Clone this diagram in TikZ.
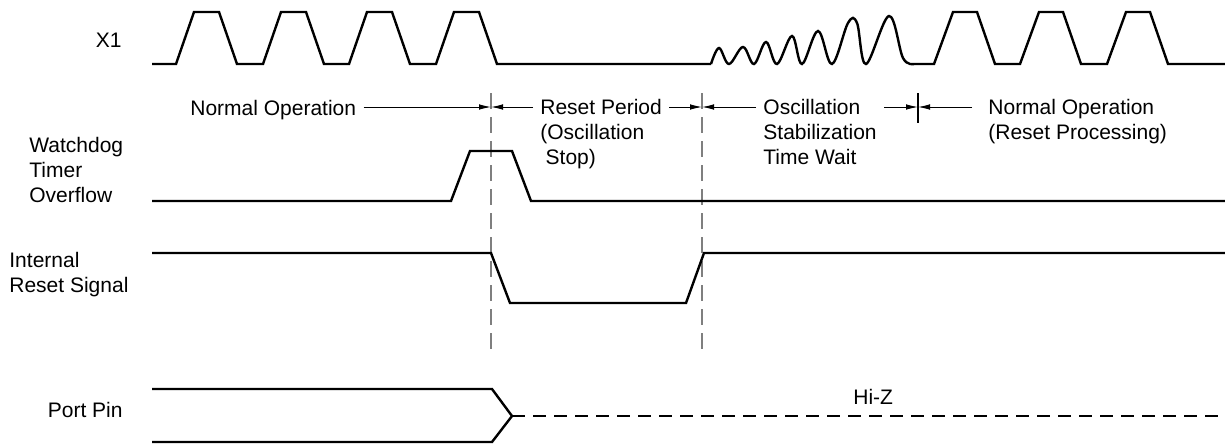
\documentclass[tikz,border=0pt]{standalone}
\usepackage{fontspec}
\setmainfont{Liberation Sans}
\usepackage{tikz}
\usetikzlibrary{arrows.meta}
\definecolor{TDInk}{HTML}{000000}
\definecolor{TDGuide}{HTML}{7F7F7F}
\definecolor{TDPaper}{HTML}{FFFFFF}

\begin{document}
\begin{tikzpicture}[x=0.5pt,y=-0.5pt,
  sig/.style={TDInk,line width=1.2pt,line join=miter},
  guide/.style={TDGuide,line width=0.6pt,dash pattern=on 8pt off 4pt},
  dim/.style={TDInk,line width=0.5pt,-{Latex[length=6pt,width=2.8pt]}},
  lbl/.style={font=\fontsize{10.5}{12.5}\selectfont,align=left,inner sep=3.5pt}]
\path[use as bounding box] (0,0) rectangle (1225,445);
\fill[TDPaper] (0,0) rectangle (1225,445);
% signal names
\node[lbl,anchor=base east] (nX1) at (129,47.5) {X1};
\node[lbl,anchor=north west] (nWdt) at (22,130.2) {Watchdog\\Timer\\Overflow};
\node[lbl,anchor=north west] (nRst) at (2,245.2) {Internal\\Reset Signal};
\node[lbl,anchor=base east] (nPort) at (130,417.5) {Port Pin};
% phase markers
\coordinate (m1) at (491,107);
\coordinate (m2) at (702,107);
\coordinate (m3) at (918,107);
\draw[guide] (491,93) -- (491,355);
\draw[guide] (702,93) -- (702,355);
\draw[TDInk,line width=0.6pt] (918,93) -- (918,123);
% phase labels
\node[lbl,anchor=base west] (normA) at (183,115.5) {Normal Operation};
\node[lbl,anchor=north west] (resetP) at (533,92.2) {Reset Period\\(Oscillation\\\hspace*{0.25em}Stop)};
\node[lbl,anchor=north west] (osc) at (756,92.2) {Oscillation\\Stabilization\\Time Wait};
\node[lbl,anchor=north west] (normB) at (981,92.2) {Normal Operation\\(Reset Processing)};
\draw[dim] (normA.east |- m1) -- (m1);
\draw[dim] (resetP.west |- m1) -- (m1);
\draw[dim] (resetP.east |- m2) -- (m2);
\draw[dim] (osc.west |- m2) -- (m2);
\draw[dim] (osc.east |- m3) -- (m3);
\draw[dim,shorten <=4.5pt] (normB.west |- m3) -- (m3);
% X1 clock
\draw[sig] (152,64) -- (176,64) -- (194,12) -- (219,12) -- (237,64) -- (263,64) -- (281,12) -- (306,12) -- (324,64)
  -- (349,64) -- (367,12) -- (392,12) -- (410,64) -- (436,64) -- (454,12) -- (479,12) -- (497,64) -- (711,64);
\draw[sig] plot[smooth,tension=0.6] coordinates {(711,64) (719,48) (729,64) (743,47) (754,64) (766,42) (777,64)
  (792,36) (802,64) (818,31) (832,64) (848,23) (857,23) (866,64) (889,16) (903,58) (914,64)};
\draw[sig] (914,64) -- (934,64) -- (953,12) -- (977,12) -- (995,64) -- (1020,64) -- (1039,12) -- (1063,12) -- (1081,64)
  -- (1107,64) -- (1126,12) -- (1150,12) -- (1168,64) -- (1225,64);
% watchdog timer overflow
\draw[sig] (152,201) -- (451,201) -- (470,151) -- (512,151) -- (531,201) -- (1225,201);
% internal reset
\draw[sig] (152,253) -- (491,253) -- (510,303) -- (686,303) -- (704,253) -- (1225,253);
% port pin
\draw[sig] (152,389) -- (492,389) -- (512,416) -- (492,442) -- (152,442);
\draw[sig,dash pattern=on 6.5pt off 4pt] (512,416) -- (1225,416);
\node[lbl,anchor=base west] (hiz) at (846,404.5) {Hi-Z};
\end{tikzpicture}
\end{document}
